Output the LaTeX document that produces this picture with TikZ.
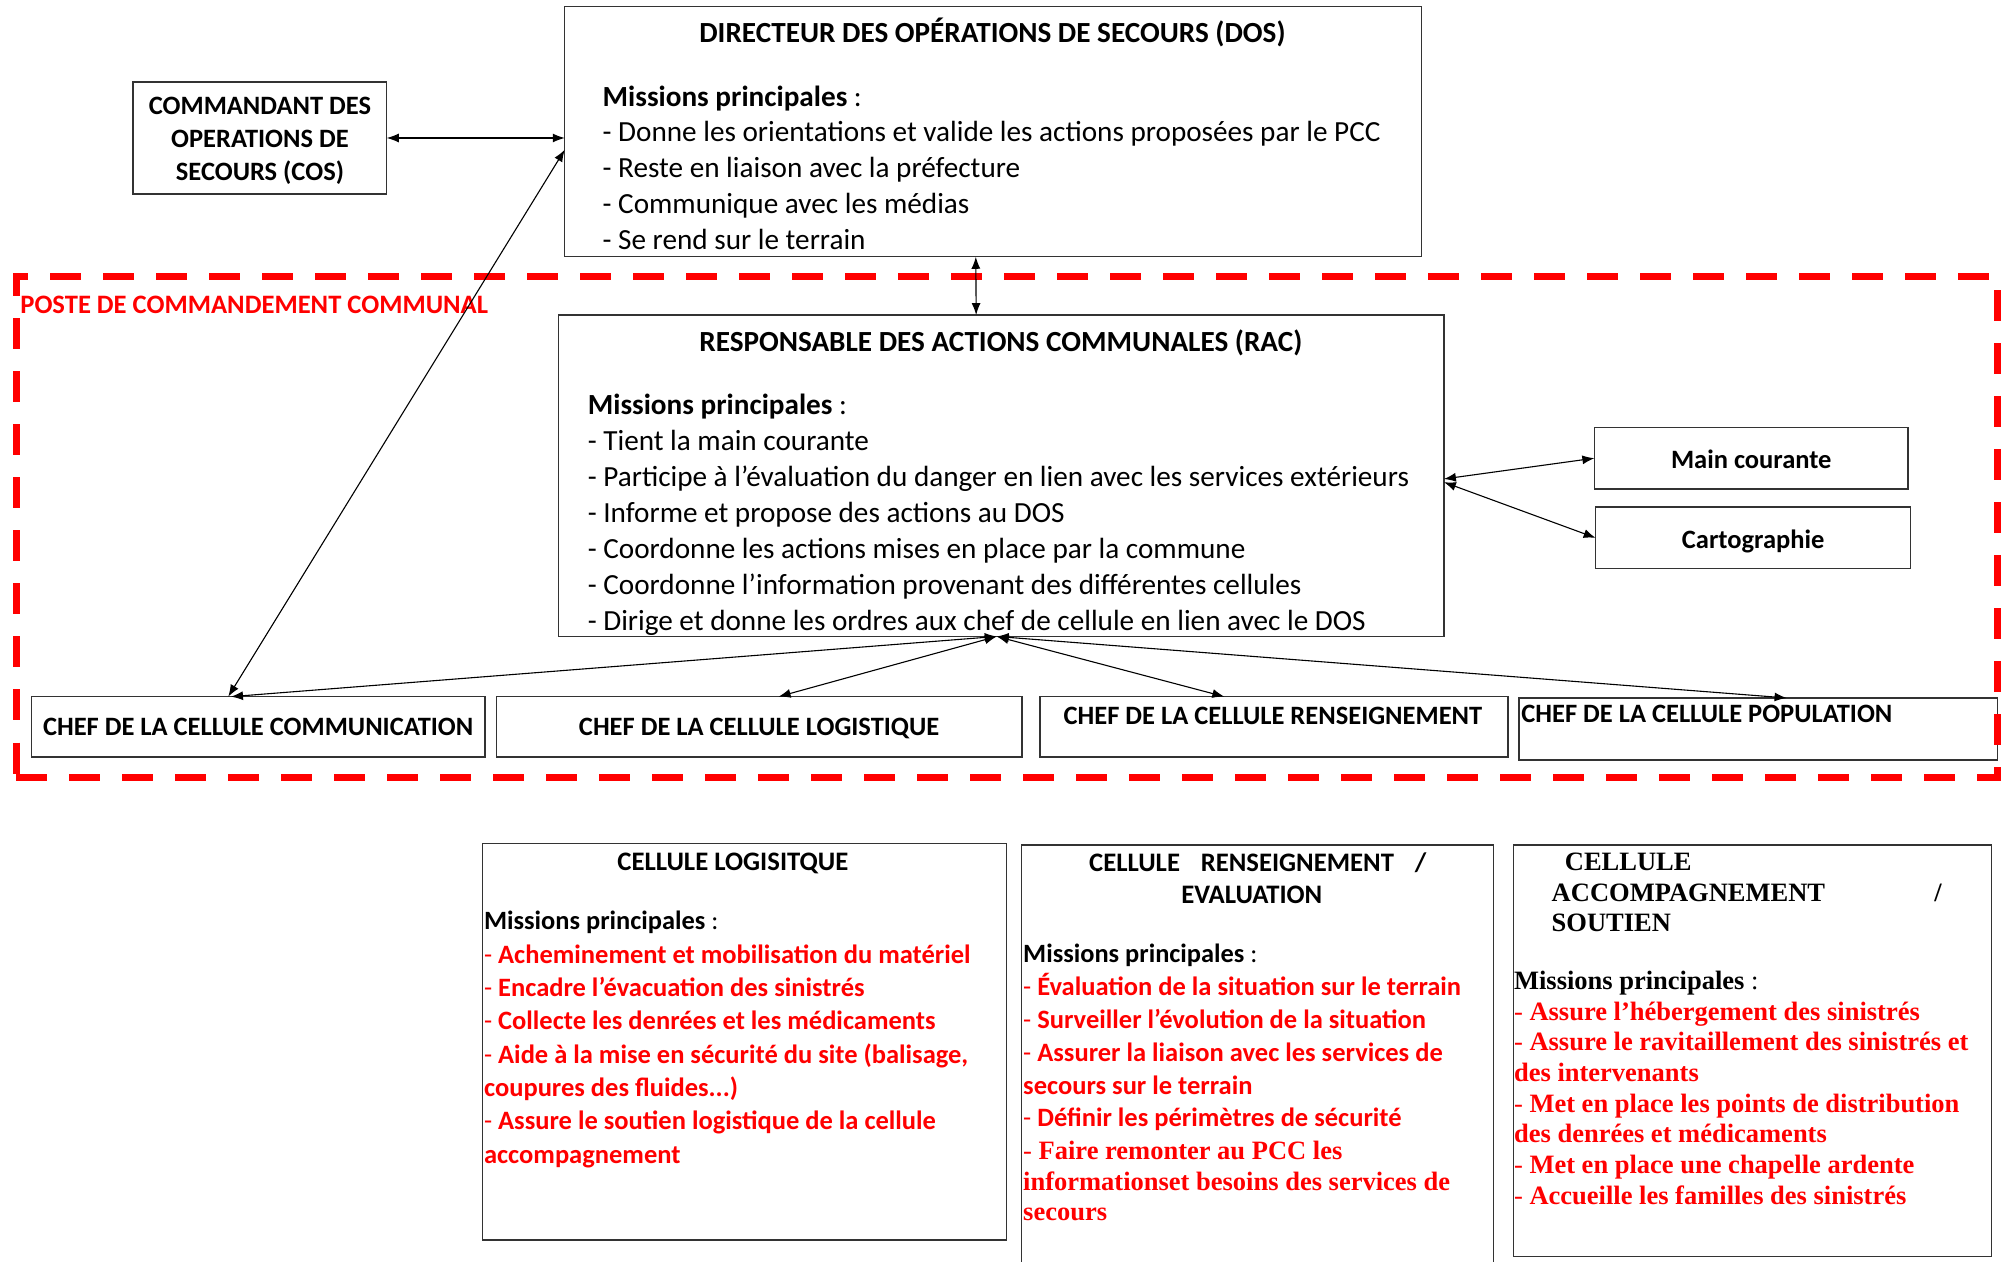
\documentclass[tikz,border=0pt]{standalone}
\usepackage{fontspec}
\setmainfont{Carlito}
\newfontfamily\tnr{Liberation Serif}
\usetikzlibrary{arrows.meta,calc,fit}
\definecolor{pcred}{RGB}{255,0,0}
\newcommand\setfs[2]{\fontsize{#1}{#2}\selectfont}
\newcommand\txtlist[6]{%
  \foreach \lx [count=\li] in {#6}{%
    \node[#5] (#1\li) at (#2,{#3+(\li-1)*#4}) {\lx};}}
\tikzset{
  box/.style={draw=black!80, line width=1.4pt, inner sep=0pt, outer sep=0pt},
  arr/.style={draw=black, line width=1.1pt, {Latex[length=12pt,width=9pt]}-{Latex[length=12pt,width=9pt]}},
  tl/.style={inner sep=0pt, outer sep=0pt, anchor=base west},
  tcn/.style={inner sep=0pt, outer sep=0pt, anchor=base},
  body/.style={tl, font=\setfs{29.2}{34}},
  ttl/.style={tcn, font=\bfseries\setfs{29.2}{34}},
  costxt/.style={tcn, font=\bfseries\setfs{26.5}{30}},
  cheftxt/.style={font=\bfseries\setfs{26.5}{30}},
  redtxt/.style={tl, text=pcred, font=\bfseries\setfs{26.5}{30}},
  redtnr/.style={tl, text=pcred, font=\tnr\bfseries\setfs{26.5}{30}},
  bttl/.style={font=\bfseries\setfs{26.7}{30}},
  tnrttl/.style={tl, font=\tnr\bfseries\setfs{26.5}{30}},
  mission/.style={tl, font=\setfs{26.4}{30}},
  pccframe/.style={draw=pcred, line width=7pt, dash pattern=on 31pt off 22pt, inner sep=0pt},
}
\begin{document}
\begin{tikzpicture}[x=1.2806pt,y=-1.2806pt]
\clip (0,0) rectangle (1568,985);
\fill[white] (0,0) rectangle (1568,985);

% ---- boxes
\node[box, fit={(441,5.2) (1110,200.5)}] (dos) {};
\node[box, fit={(104,64) (302,151.5)}] (cos) {};
\node[box, fit={(436,246) (1127.5,497)}] (rac) {};
\node[box, fit={(1245,333.6) (1490,382)}] (mc) {};
\node[box, fit={(1246,396) (1492,444)}] (carto) {};
\node[box, fit={(24.6,544) (378.6,591)}] (comm) {};
\node[box, fit={(387.6,544) (798,591)}] (logi) {};
\node[box, fit={(812,544) (1177.6,591)}] (rens) {};
\node[box, fit={(1186,545) (1560,593.5)}] (pop) {};
\node[box, fit={(377,658.5) (786,968.3)}] (blog) {};
\node[box, fit={(797.8,659.9) (1166,995)}] (bren) {};
\node[box, fit={(1181.7,659.9) (1555.3,981.3)}] (bacc) {};

% ---- DOS text
\node[ttl] (dost) at (775,33.3) {DIRECTEUR DES OPÉRATIONS DE SECOURS (DOS)};
\node[body] (dosm) at (470.6,82.8) {\textbf{Missions principales} :};
\txtlist{dosl}{470.6}{110.6}{28.1}{body}{%
  {- Donne les orientations et valide les actions proposées par le PCC},
  {- Reste en liaison avec la préfecture},
  {- Communique avec les médias},
  {- Se rend sur le terrain}}

% ---- COS text
\txtlist{cosl}{203}{89.8}{25.4}{costxt}{%
  {COMMANDANT DES},{OPERATIONS DE},{SECOURS (COS)}}

% ---- RAC text
\node[ttl] (ract) at (781.5,274.5) {RESPONSABLE DES ACTIONS COMMUNALES (RAC)};
\node[body] (racm) at (459,324) {\textbf{Missions principales} :};
\txtlist{racl}{459}{352}{28}{body}{%
  {- Tient la main courante},
  {- Participe à l’évaluation du danger en lien avec les services extérieurs},
  {- Informe et propose des actions au DOS},
  {- Coordonne les actions mises en place par la commune},
  {- Coordonne l’information provenant des différentes cellules},
  {- Dirige et donne les ordres aux chef de cellule en lien avec le DOS}}

% ---- side boxes
\node[tcn, cheftxt] (mct) at (1367.5,365.7) {Main courante};
\node[tcn, cheftxt] (cartot) at (1369,428) {Cartographie};

% ---- chef boxes text
\node[tcn, cheftxt] (commt) at (201.6,574) {CHEF DE LA CELLULE COMMUNICATION};
\node[tcn, cheftxt] (logit) at (592.8,574) {CHEF DE LA CELLULE LOGISTIQUE};
\node[tcn, cheftxt] (renst) at (994,565.4) {CHEF DE LA CELLULE RENSEIGNEMENT};
\node[tl, cheftxt] (popt) at (1188,564) {CHEF DE LA CELLULE POPULATION};

% ---- PCC frame
\node[pccframe, fit={(12.5,216.3) (1560,606.8)}] (pcc) {};
\node[tl, text=pcred, font=\bfseries\setfs{26.6}{30}] (pcct) at (15.9,244.7) {POSTE DE COMMANDEMENT COMMUNAL};

% ---- connectors
\draw[arr] (cos.east) -- (cos.east -| dos.west);
\draw[arr] ($(dos.south west)!0.4798!(dos.south east)$) -- ($(rac.north west)!0.4718!(rac.north east)$);
\draw[arr] ($(dos.north west)!0.572!(dos.south west)$) -- ($(comm.north west)!0.434!(comm.north east)$);
\draw[arr] ($(rac.north east)!0.51!(rac.south east)$) -- (mc.west);
\draw[arr] ($(rac.north east)!0.52!(rac.south east)$) -- (carto.west);
\coordinate (hub) at ($(rac.south west)!0.495!(rac.south east)$);
\draw[arr] (hub) -- ($(comm.north west)!0.44!(comm.north east)$);
\draw[arr] (hub) -- ($(logi.north west)!0.537!(logi.north east)$);
\draw[arr] (hub) -- ($(rens.north west)!0.394!(rens.north east)$);
\draw[arr] (hub) -- ($(pop.north west)!0.559!(pop.north east)$);

% ---- bottom: cellule logistique
\node[tcn, bttl] (blogt) at (572.3,679.4) {CELLULE LOGISITQUE};
\node[mission] (blogm) at (378,725.7) {\textbf{Missions principales} :};
\txtlist{blogl}{378}{752.2}{26}{redtxt}{%
  {\textmd{-} Acheminement et mobilisation du matériel},
  {\textmd{-} Encadre l’évacuation des sinistrés},
  {\textmd{-} Collecte les denrées et les médicaments},
  {\textmd{-} Aide à la mise en sécurité du site (balisage,},
  {coupures des fluides.{}..)},
  {\textmd{-} Assure le soutien logistique de la cellule},
  {accompagnement}}

% ---- bottom: cellule renseignement
\node[tl, bttl] (brent1) at (850.5,680.2) {\makebox[337pt][s]{CELLULE RENSEIGNEMENT /}};
\node[tcn, bttl] (brent2) at (977.5,705.4) {EVALUATION};
\node[mission] (brenm) at (799,751.7) {\textbf{Missions principales} :};
\txtlist{brenl}{799}{777.5}{25.6}{redtxt}{%
  {\textmd{-} Évaluation de la situation sur le terrain},
  {\textmd{-} Surveiller l’évolution de la situation},
  {\textmd{-} Assurer la liaison avec les services de},
  {secours sur le terrain},
  {\textmd{-} Définir les périmètres de sécurité}}
\txtlist{brenx}{799}{905.8}{23.5}{redtnr}{%
  {\textmd{-} Faire remonter au PCC les},
  {informationset besoins des services de},
  {secours}}

% ---- bottom: cellule accompagnement
\node[tnrttl] (bacct1) at (1222,679.9) {CELLULE};
\node[tnrttl] (bacct2) at (1211.7,704.1) {\makebox[390pt][s]{ACCOMPAGNEMENT /}};
\node[tnrttl] (bacct3) at (1211.7,727.5) {SOUTIEN};
\node[tl, font=\tnr\setfs{26.5}{30}] (baccm) at (1182.3,773) {\textbf{Missions principales} :};
\txtlist{baccl}{1182.3}{796.5}{23.95}{redtnr}{%
  {\textmd{-} Assure l’hébergement des sinistrés},
  {\textmd{-} Assure le ravitaillement des sinistrés et},
  {des intervenants},
  {\textmd{-} Met en place les points de distribution},
  {des denrées et médicaments},
  {\textmd{-} Met en place une chapelle ardente},
  {\textmd{-} Accueille les familles des sinistrés}}
\end{tikzpicture}
\end{document}
